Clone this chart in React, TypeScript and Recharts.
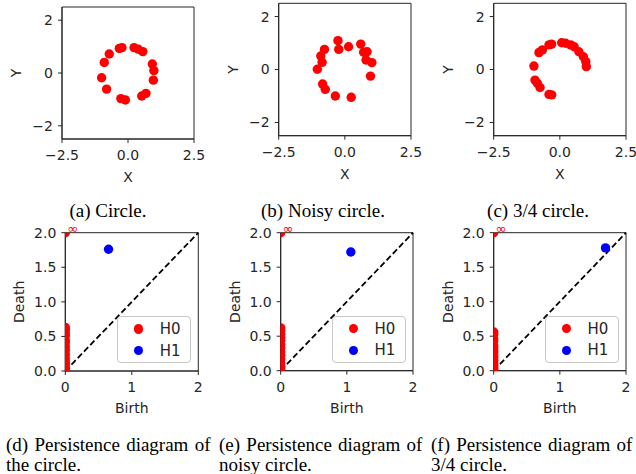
import {
  Label,
  Legend,
  ReferenceArea,
  ReferenceDot,
  ReferenceLine,
  Scatter,
  ScatterChart,
  XAxis,
  YAxis,
} from "recharts"

// point clouds (x, y)
const circlePoints = [
  { x: -0.33, y: 0.93 }, { x: -0.23, y: 0.96 }, { x: -0.71, y: 0.72 }, { x: -0.9, y: 0.4 },
  { x: -1.0, y: -0.18 }, { x: -0.81, y: -0.61 }, { x: -0.27, y: -0.97 }, { x: -0.1, y: -1.02 },
  { x: 0.52, y: -0.87 }, { x: 0.68, y: -0.77 }, { x: 0.96, y: -0.27 }, { x: 0.98, y: 0.09 },
  { x: 0.92, y: 0.34 }, { x: 0.23, y: 0.96 }, { x: 0.39, y: 0.9 }, { x: 0.56, y: 0.81 },
]
const noisyPoints = [
  { x: -0.26, y: 1.09 }, { x: -0.23, y: 0.76 }, { x: 0.14, y: 0.86 }, { x: 0.6, y: 0.96 },
  { x: 0.71, y: 0.65 }, { x: 0.84, y: 0.67 }, { x: 0.8, y: 0.36 }, { x: 1.02, y: 0.26 },
  { x: 0.97, y: -0.25 }, { x: -0.77, y: 0.76 }, { x: -0.91, y: 0.51 }, { x: -0.86, y: 0.27 },
  { x: -1.04, y: 0.01 }, { x: -0.84, y: -0.55 }, { x: -0.74, y: -0.75 }, { x: -0.36, y: -1.0 },
  { x: 0.24, y: -1.05 },
]
const threeQuarterPoints = [
  { x: -0.98, y: 0.13 }, { x: -0.79, y: 0.64 }, { x: -0.66, y: 0.74 }, { x: -0.41, y: 0.93 },
  { x: -0.31, y: 0.96 }, { x: 0.07, y: 1.01 }, { x: 0.22, y: 0.99 }, { x: 0.41, y: 0.93 },
  { x: 0.54, y: 0.86 }, { x: 0.72, y: 0.67 }, { x: 0.89, y: 0.48 }, { x: 0.98, y: 0.3 },
  { x: 1.0, y: 0.11 }, { x: -0.94, y: -0.4 }, { x: -0.85, y: -0.52 }, { x: -0.75, y: -0.68 },
  { x: -0.41, y: -0.94 }, { x: -0.31, y: -0.96 },
]

// H0 deaths (birth is always 0)
const circleH0 = [0.01, 0.04, 0.09, 0.13, 0.18, 0.24, 0.3, 0.35, 0.41, 0.45, 0.51, 0.55, 0.6, 0.63]
const noisyH0 = [0.02, 0.06, 0.11, 0.17, 0.22, 0.27, 0.33, 0.38, 0.44, 0.48, 0.53, 0.58, 0.62]
const threeQuarterH0 = [0.01, 0.04, 0.08, 0.11, 0.15, 0.19, 0.22, 0.26, 0.29, 0.33, 0.36, 0.43, 0.46, 0.53, 0.56]

// H1 (birth, death)
const circleH1 = [{ x: 0.65, y: 1.76 }]
const noisyH1 = [{ x: 1.06, y: 1.72 }]
const threeQuarterH1 = [{ x: 1.69, y: 1.78 }]

// the infinite H0 class, drawn at the top of the axis
const infinitePoint = [{ x: 0, y: 2 }]

const cloudTicksX = [-2.5, 0, 2.5]
const cloudTicksY = [-2, 0, 2]
const diagramTicksX = [0, 1, 2]
const diagramTicksY = [0, 0.5, 1, 1.5, 2]
const legendNames = ["H0", "H1"]

const topCaptions = ["(a) Circle.", "(b) Noisy circle.", "(c) 3/4 circle."]
const bottomCaptions = [
  ["(d) Persistence diagram of", "the circle."],
  ["(e) Persistence diagram of", "noisy circle."],
  ["(f) Persistence diagram of", "3/4 circle."],
]

const W = 212
const H = 200
const FONT = '"DejaVu Sans", sans-serif'
const SERIF = '"Liberation Serif", "Times New Roman", serif'
const INK = "#262626"
const RED = "#ff0000"
const BLUE = "#0000ff"

const tickStyle = { fill: INK, fontSize: 14, fontFamily: FONT }
const lineStyle = { stroke: INK, strokeWidth: 1 }
const minus = (s: string) => s.replace("-", "\u2212")

const dot = (color: string) => (p: any) => <circle cx={p.cx} cy={p.cy} r={4.7} fill={color} />

const xLabel = (text: string, gap: number) => (p: any) => {
  const vb = p.viewBox
  return (
    <text x={vb.x + vb.width / 2} y={vb.y + gap} textAnchor="middle" fontSize={14} fontFamily={FONT} fill={INK}>
      {text}
    </text>
  )
}

const yLabel = (text: string) => (p: any) => {
  const vb = p.viewBox
  const x = vb.x + vb.width - 41
  const y = vb.y + vb.height / 2
  return (
    <text x={x} y={y} transform={`rotate(-90, ${x}, ${y})`} textAnchor="middle" fontSize={14} fontFamily={FONT} fill={INK}>
      {text}
    </text>
  )
}

const renderLegend = (props: any) => {
  const items = (props.payload || []).filter((e: any) => legendNames.includes(e.value))
  return (
    <div
      style={{
        position: "relative",
        width: 74,
        height: 47,
        boxSizing: "border-box",
        border: "1px solid #c8c8c8",
        borderRadius: 4,
        background: "rgba(255,255,255,0.8)",
        fontFamily: FONT,
        fontSize: 15,
        color: INK,
      }}
    >
      {items.map((entry: any, i: number) => (
        <div key={entry.value} style={{ position: "absolute", left: 0, top: 3 + i * 21.5, height: 18, width: 72 }}>
          <span
            style={{
              position: "absolute",
              left: 16,
              top: 4.4,
              width: 9.4,
              height: 9.4,
              borderRadius: "50%",
              background: entry.color,
            }}
          />
          <span style={{ position: "absolute", left: 42, top: 0, lineHeight: "18px" }}>{entry.value}</span>
        </div>
      ))}
    </div>
  )
}

type Box = { left: number; top: number; x0: number; x1: number; y0: number; y1: number }

function Cloud({ box, data }: { box: Box; data: { x: number; y: number }[] }) {
  return (
    <div style={{ position: "absolute", left: box.left, top: box.top }}>
      <ScatterChart width={W} height={H} margin={{ top: box.y0, right: W - box.x1, bottom: H - box.y1 - 43, left: 0 }}>
        <XAxis
          type="number"
          dataKey="x"
          domain={[-2.5, 2.5]}
          ticks={cloudTicksX}
          allowDataOverflow
          height={43}
          tick={tickStyle}
          tickSize={4}
          tickMargin={7}
          axisLine={lineStyle}
          tickLine={lineStyle}
          tickFormatter={(v: number) => minus(v.toFixed(1))}
        >
          <Label content={xLabel("X", 43)} />
        </XAxis>
        <YAxis
          type="number"
          dataKey="y"
          domain={[-2.5, 2.5]}
          ticks={cloudTicksY}
          allowDataOverflow
          width={box.x0}
          tick={tickStyle}
          tickSize={4}
          tickMargin={5}
          axisLine={lineStyle}
          tickLine={lineStyle}
          tickFormatter={(v: number) => minus(String(v))}
        >
          <Label content={yLabel("Y")} />
        </YAxis>
        <ReferenceArea x1={-2.5} x2={2.5} y1={-2.5} y2={2.5} fill="none" stroke={INK} strokeWidth={1} />
        <Scatter data={data} fill={RED} shape={dot(RED)} isAnimationActive={false} />
      </ScatterChart>
    </div>
  )
}

function Diagram({ box, h0, h1 }: { box: Box; h0: number[]; h1: { x: number; y: number }[] }) {
  const h0Data = h0.map((d) => ({ x: 0, y: d }))
  return (
    <div style={{ position: "absolute", left: box.left, top: box.top }}>
      <ScatterChart width={W} height={H} margin={{ top: box.y0, right: W - box.x1, bottom: H - box.y1 - 42, left: 0 }}>
        <XAxis
          type="number"
          dataKey="x"
          domain={[0, 2]}
          ticks={diagramTicksX}
          allowDataOverflow
          height={42}
          tick={tickStyle}
          tickSize={4}
          tickMargin={7}
          axisLine={lineStyle}
          tickLine={lineStyle}
        >
          <Label content={xLabel("Birth", 42)} />
        </XAxis>
        <YAxis
          type="number"
          dataKey="y"
          domain={[0, 2]}
          ticks={diagramTicksY}
          allowDataOverflow
          width={box.x0}
          tick={tickStyle}
          tickSize={4}
          tickMargin={5}
          axisLine={lineStyle}
          tickLine={lineStyle}
          tickFormatter={(v: number) => v.toFixed(1)}
        >
          <Label content={yLabel("Death")} />
        </YAxis>
        <ReferenceArea x1={0} x2={2} y1={0} y2={2} fill="none" stroke={INK} strokeWidth={1} />
        <Scatter name="H0" data={h0Data} fill={RED} shape={dot(RED)} isAnimationActive={false} />
        <Scatter name="H1" data={h1} fill={BLUE} shape={dot(BLUE)} isAnimationActive={false} />
        <Scatter name="inf" data={infinitePoint} fill={RED} shape={dot(RED)} legendType="none" isAnimationActive={false} />
        <ReferenceLine
          segment={[
            { x: 0, y: 0 },
            { x: 2, y: 2 },
          ]}
          stroke="#000000"
          strokeWidth={1.8}
          strokeDasharray="6 3"
        />
        <ReferenceDot
          x={0.11}
          y={2.06}
          r={0}
          ifOverflow="visible"
          shape={(p: any) => (
            <text x={p.cx} y={p.cy} textAnchor="middle" dominantBaseline="central" fontSize={13} fontFamily={FONT} fill={RED}>
              ∞
            </text>
          )}
        />
        <Legend
          layout="vertical"
          align="center"
          verticalAlign="middle"
          wrapperStyle={{ left: box.x1 - 7.5 - 74, top: box.y1 - 55, width: 74, height: 47 }}
          content={renderLegend}
        />
      </ScatterChart>
    </div>
  )
}

export default function App() {
  return (
    <div style={{ position: "absolute", left: 0, top: 0, width: 636, height: 474, overflow: "hidden", background: "#fff" }}>
      <Cloud box={{ left: 0, top: 0, x0: 62, x1: 194, y0: 7, y1: 139 }} data={circlePoints} />
      <Cloud box={{ left: 212, top: 0, x0: 66.7, x1: 199, y0: 3.3, y1: 135.7 }} data={noisyPoints} />
      <Cloud box={{ left: 424, top: 0, x0: 69.7, x1: 202, y0: 3.3, y1: 135.7 }} data={threeQuarterPoints} />
      <Diagram box={{ left: 0, top: 222, x0: 65.3, x1: 198.3, y0: 10.7, y1: 149 }} h0={circleH0} h1={circleH1} />
      <Diagram box={{ left: 212, top: 222, x0: 68.7, x1: 201, y0: 10.7, y1: 148.7 }} h0={noisyH0} h1={noisyH1} />
      <Diagram box={{ left: 424, top: 222, x0: 69.7, x1: 202, y0: 10.7, y1: 148.7 }} h0={threeQuarterH0} h1={threeQuarterH1} />
      <svg width={636} height={474} style={{ position: "absolute", left: 0, top: 0, pointerEvents: "none" }}>
        {topCaptions.map((c, i) => (
          <text key={c} x={[108, 323, 538][i]} y={217} textAnchor="middle" fontSize={19} fontFamily={SERIF} fill="#000">
            {c}
          </text>
        ))}
        {bottomCaptions.map((lines, i) =>
          lines.map((line, j) => (
            <text
              key={line}
              x={[6, 219, 431][i]}
              y={451 + j * 19.5}
              fontSize={19}
              fontFamily={SERIF}
              fill="#000"
              wordSpacing={j === 0 ? 1.5 : 0}
            >
              {line}
            </text>
          ))
        )}
      </svg>
    </div>
  )
}
